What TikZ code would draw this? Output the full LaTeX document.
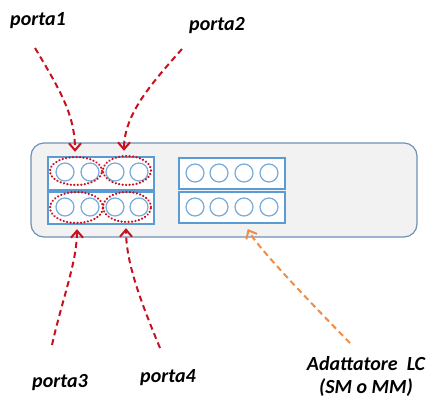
\documentclass[tikz,border=0pt]{standalone}
\usepackage{fontspec}
\setmainfont{Carlito}
\usetikzlibrary{arrows.meta}
\definecolor{portred}{RGB}{200,16,30}
\definecolor{adorange}{RGB}{240,140,70}
\definecolor{boxblue}{RGB}{91,155,213}
\definecolor{circblue}{RGB}{120,170,220}
\definecolor{panelfill}{RGB}{242,242,242}
\definecolor{paneldraw}{RGB}{110,145,185}
\tikzset{
  lbl/.style={font=\fontsize{20}{23}\selectfont\bfseries\itshape, inner sep=0pt, align=center},
  panel/.style={draw=paneldraw, fill=panelfill, line width=1.2pt, rounded corners=13pt},
  block/.style={draw=boxblue, fill=white, line width=1.4pt},
  hole/.style={draw=circblue, line width=1.2pt, circle, minimum size=18pt, inner sep=0pt},
  pair/.style={draw=portred, line width=2.4pt, dash pattern=on 0.1pt off 3.4pt, line cap=round, ellipse, inner sep=0pt},
  redarrow/.style={draw=portred, line width=2pt, dash pattern=on 6pt off 4pt, -{Straight Barb[length=7pt,width=12pt,line width=2pt]}},
  orarrow/.style={draw=adorange, line width=2pt, dash pattern=on 6pt off 4pt, -{Straight Barb[length=7pt,width=12pt,line width=2pt]}},
}
\usetikzlibrary{shapes.geometric}
\begin{document}
\begin{tikzpicture}[x=1pt,y=-1pt]
\useasboundingbox (0,0) rectangle (434,400);
% panel
\draw[panel] (31,143) rectangle (417,237);
% blocks
\node[block, minimum width=106pt, minimum height=33pt, inner sep=0pt] (lb1) at (101,173.5) {};
\node[block, minimum width=106pt, minimum height=32pt, inner sep=0pt] (lb2) at (101,208) {};
\node[block, minimum width=106pt, minimum height=31pt, inner sep=0pt] (rb1) at (232,173.5) {};
\node[block, minimum width=106pt, minimum height=31pt, inner sep=0pt] (rb2) at (232,207.5) {};
% holes
\foreach \x [count=\i] in {65,90,115,139}{
  \node[hole] (la\i) at (\x,172) {};
  \node[hole] (lc\i) at (\x,207) {};
}
\foreach \x [count=\i] in {195,219,244,269}{
  \node[hole] (ra\i) at (\x,173) {};
  \node[hole] (rc\i) at (\x,207) {};
}
% dotted pairs
\node[pair, minimum width=52pt, minimum height=28pt] (e1) at (76,171) {};
\node[pair, minimum width=48pt, minimum height=29pt] (e2) at (127,170.5) {};
\node[pair, minimum width=53pt, minimum height=31pt] (e3) at (76.5,207.5) {};
\node[pair, minimum width=48pt, minimum height=30pt] (e4) at (127,207) {};
% labels
\node[lbl] (p1) at (38,21) {porta1};
\node[lbl] (p2) at (217,26) {porta2};
\node[lbl] (p3) at (60,383) {porta3};
\node[lbl] (p4) at (168,378) {porta4};
\node[lbl] (ad) at (366,376) {Adattatore\ \ LC\\(SM o MM)};
% free ends
\coordinate (s1) at (35,48);
\coordinate (s2) at (182,49);
\coordinate (s3) at (52,345);
\coordinate (s4) at (160,348);
\coordinate (s5) at (350,343);
% arrows
\draw[redarrow, shorten >=4pt] (s1) .. controls (60,90) and (75,115) .. ([xshift=-1pt]e1.north);
\draw[redarrow, shorten >=4pt] (s2) .. controls (150,85) and (124,115) .. ([xshift=-3pt]e2.north);
\draw[redarrow, shorten >=5pt] (s3) .. controls (62,300) and (77,262) .. ([xshift=0.5pt]e3.south);
\draw[redarrow, shorten >=5pt] (s4) .. controls (140,300) and (126,262) .. ([xshift=-1pt]e4.south);
\draw[orarrow, shorten >=6pt] (s5) .. controls (300,292) and (256,245) .. ([xshift=13pt]rb2.south);
\end{tikzpicture}
\end{document}
